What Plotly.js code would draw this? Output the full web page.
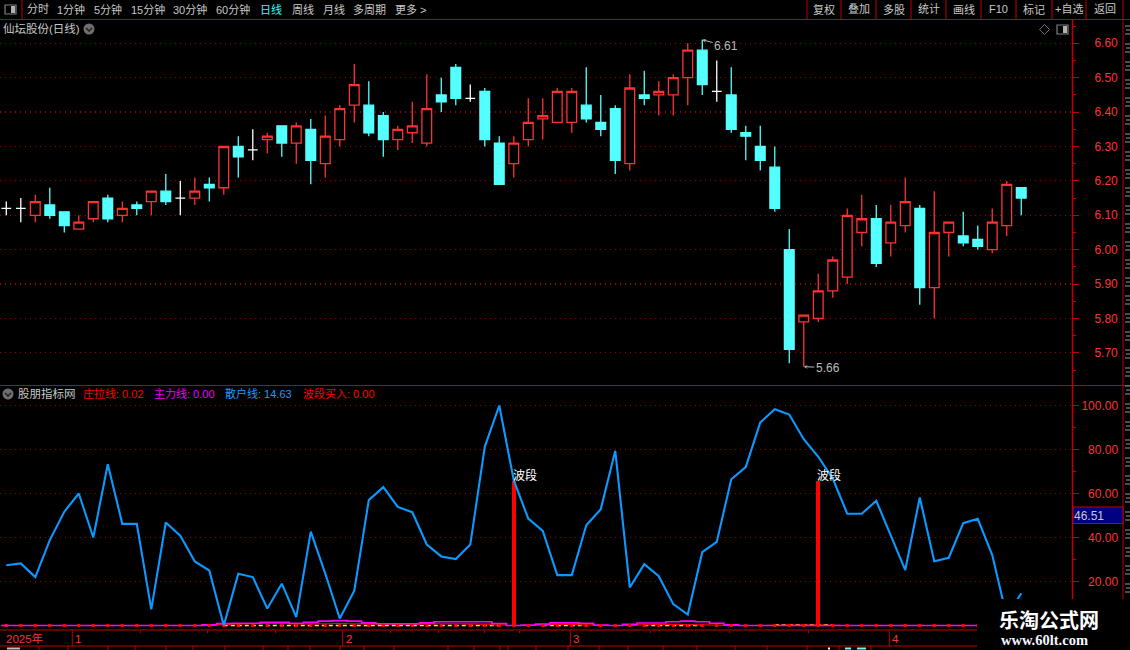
<!DOCTYPE html>
<html><head><meta charset="utf-8">
<script src="https://cdn.plot.ly/plotly-3.0.1.min.js"></script>
<style>html,body{margin:0;padding:0;background:#000;overflow:hidden}</style>
</head><body><div id="chart" style="width:1130px;height:650px"></div>
<script>
// ---- values ----
const stockName = "仙坛股份(日线)";
const indicatorName = "股朋指标网";
const open  = [6.12,6.12,6.10,6.13,6.11,6.06,6.09,6.15,6.10,6.13,6.14,6.17,6.15,6.15,6.19,6.18,6.30,6.29,6.32,6.36,6.31,6.35,6.25,6.32,6.42,6.42,6.39,6.32,6.34,6.31,6.45,6.53,6.44,6.46,6.31,6.25,6.32,6.38,6.37,6.37,6.42,6.37,6.41,6.25,6.45,6.45,6.45,6.50,6.58,6.46,6.45,6.34,6.30,6.24,6.00,5.79,5.80,5.88,5.92,6.05,6.09,6.02,6.07,6.12,5.89,6.05,6.04,6.03,6.00,6.07,6.18];
const high  = [6.14,6.15,6.16,6.18,6.11,6.10,6.14,6.16,6.14,6.14,6.17,6.22,6.20,6.21,6.21,6.30,6.33,6.35,6.34,6.36,6.37,6.38,6.39,6.42,6.54,6.49,6.40,6.36,6.43,6.51,6.50,6.54,6.48,6.47,6.33,6.33,6.44,6.44,6.47,6.47,6.53,6.45,6.42,6.51,6.52,6.49,6.51,6.60,6.61,6.55,6.53,6.36,6.36,6.30,6.06,5.81,5.93,5.98,6.12,6.16,6.13,6.13,6.21,6.13,6.17,6.08,6.11,6.07,6.12,6.20,6.18];
const low   = [6.10,6.08,6.08,6.09,6.05,6.06,6.08,6.08,6.08,6.10,6.10,6.13,6.10,6.13,6.14,6.16,6.21,6.26,6.28,6.27,6.25,6.19,6.21,6.30,6.37,6.33,6.27,6.29,6.31,6.30,6.40,6.42,6.43,6.30,6.19,6.21,6.30,6.32,6.37,6.34,6.37,6.33,6.22,6.23,6.42,6.39,6.39,6.42,6.45,6.43,6.34,6.26,6.23,6.11,5.67,5.66,5.79,5.86,5.90,6.01,5.95,5.98,6.05,5.84,5.80,5.98,6.01,6.00,5.99,6.04,6.10];
const close = [6.12,6.12,6.14,6.10,6.07,6.08,6.14,6.09,6.12,6.12,6.17,6.14,6.15,6.17,6.18,6.30,6.27,6.29,6.33,6.31,6.36,6.26,6.33,6.41,6.48,6.34,6.32,6.35,6.36,6.41,6.43,6.44,6.44,6.32,6.19,6.31,6.37,6.39,6.46,6.46,6.38,6.35,6.26,6.47,6.44,6.46,6.50,6.58,6.48,6.46,6.35,6.33,6.26,6.12,5.71,5.81,5.88,5.97,6.10,6.09,5.96,6.08,6.14,5.89,6.05,6.08,6.02,6.01,6.08,6.19,6.15];
const retail = [27.4,28.2,22,38.8,51.7,60,40,73.3,46.2,46.2,7.3,46.8,40.8,29.1,25,0,23.5,22,7.7,19,3.8,42.7,23.6,3.2,15.8,57,62.9,53.9,51.5,36.8,31.4,30.2,36.8,81.2,100,66,48.6,43,22.9,22.9,45.6,52.9,79.4,17.3,27.9,22.4,9.7,5,33.3,38,66.5,72,92.3,98.3,95.9,84.7,76.7,66.8,50.8,50.8,56.7,41,25.2,58.2,29.2,30.8,46.5,48.5,32,4,14.63];
const mainForce = [0,0,0,0,0,0,0,0,0,0,0,0,0,0,0.3,0.9,1,1,1.5,1.5,1,1.5,2,2.2,2,1.2,0.8,0.8,0.8,1.2,1.7,1.7,1.7,1.7,0.9,0,0.15,0.6,1.2,1.2,1,0.2,0,0.5,1.1,1.1,1.7,2,1.7,1,0.3,0,0,0,0,0,0,0,0,0,0,0,0,0,0,0,0,0,0,0,0];
const banker = [0,0,0,0,0,0,0,0,0,0,0,0,0,0,0,0.4,0.7,0.8,0.9,0.9,0.7,0.7,0.8,0.9,0.8,0.7,0.6,0.6,0.6,0.7,0.8,0.8,0.7,0.6,0.3,0,0,0.2,0.45,0.45,0.3,0,0,0,0.3,0.45,0.45,0.45,0.3,0.2,0,0,0,0.1,0.2,0.2,0.2,0.1,0,0,0,0,0,0,0,0,0,0,0,0,0.02];
const yellowGuide = [null,null,null,null,null,null,null,null,null,null,null,null,null,null,null,0,0,0,0,0,0,0,0,0,0,0,0,0,0,0,0,0,0,0,0,null,null,0,0,0,0,null,null,null,0,0,0,0,0,null,null,null,null,0.4,0.4,0.4,0.4,0.4,null,null,null,null,null,null,null,null,null,null,null,null,null];
const buyLevel = retail.map(() => 0);
const signalIndex = [35, 56];
const signalValue = [65.6, 65.6];
const signalLabel = "波段";
const priceTicks = [5.7,5.8,5.9,6.0,6.1,6.2,6.3,6.4,6.5,6.6];
const priceTickText = ["5.70","5.80","5.90","6.00","6.10","6.20","6.30","6.40","6.50","6.60"];
const lowerTicks = [20,40,60,80,100];
const lowerTickText = ["\u200720.00","\u200740.00","\u200760.00","\u200780.00","100.00"];
const yearLabel = "2025年";
const monthLabels = ["1","2","3","4"];
const monthTicks = [4.55,23.2,38.9,60.9];
const minorTicks = [9.24,13.9,18.6,26.5,29.8,32.95,35.4,44.4,49.9,55.35];
const highLabel = "6.61", lowLabel = "5.66";
const lastRetailLabel = "46.51";
const toolbarLeft = ["分时","1分钟","5分钟","15分钟","30分钟","60分钟","日线","周线","月线","多周期","更多 >"];
const toolbarRight = ["复权","叠加","多股","统计","画线","F10","标记","+自选","返回"];
const legendNames = ["庄拉线","主力线","散户线","波段买入"];
const legendValues = ["0.02","0.00","14.63","0.00"];
const watermark = ["乐淘公式网","www.60lt.com"];

// ---- layout constants ----
const W = 1130, H = 650;
const px = v => v / W, py = v => 1 - v / H;
const RED = "#c00000", TXT = "#c8c8c8", LBL = "#ff3232";
const CJK = "'Liberation Sans','Noto Sans CJK SC',sans-serif";
const idx = open.map((_, i) => i);
const isDoji = idx.map(i => open[i] === close[i]);
const pick = (arr, want) => arr.filter((_, i) => isDoji[i] === want);

const candle = (want, up, down, fillUp, fillDown) => ({
  type: "candlestick", x: pick(idx, want), open: pick(open, want), high: pick(high, want), low: pick(low, want), close: pick(close, want),
  increasing: {line: {color: up, width: 1.3}, fillcolor: fillUp},
  decreasing: {line: {color: down, width: 1.3}, fillcolor: fillDown},
  whiskerwidth: 0, hoverinfo: "skip", showlegend: false, xaxis: "x", yaxis: "y"
});
const low2 = (y, line, extra) => Object.assign({type: "scatter", mode: "lines", x: idx, y, line, connectgaps: false, hoverinfo: "skip", showlegend: false, xaxis: "x2", yaxis: "y2"}, extra || {});

const traces = [
  candle(false, "#ff3232", "#54ffff", "#000000", "#54ffff"),
  candle(true, "#ffffff", "#ffffff", "#ffffff", "#ffffff"),
  {type: "bar", x: signalIndex, y: signalValue, width: 0.27, marker: {color: "#ff0000", line: {width: 0}}, hoverinfo: "skip", showlegend: false, xaxis: "x2", yaxis: "y2"},
  low2(yellowGuide, {color: "#ffff00", width: 1.3, dash: "4px,3px"}),
  low2(banker, {color: "#ff0000", width: 1.2, shape: "hvh"}),
  low2(mainForce, {color: "#ff00ff", width: 1.6, shape: "hvh"}),
  low2(buyLevel, {width: 0}, {mode: "markers", marker: {color: "#ff0000", symbol: "square", size: 3, line: {width: 0}}}),
  low2(retail, {color: "#0a99ff", width: 2.1})
];

// ---- text ----
const note = (text, x, y, color, size, extra) => Object.assign({
  text, x: px(x), y: py(y), xref: "paper", yref: "paper", xanchor: "left", yanchor: "middle", xshift: -2,
  showarrow: false, font: {family: CJK, size: size || 11, color: color || TXT}
}, extra || {});
const annotations = [];
const leftX = [27,57,94,131,173,216,260,292,323,353,395];
toolbarLeft.forEach((t, i) => annotations.push(note(t, leftX[i], 9.5, t === "日线" ? "#33ffff" : TXT, 11)));
const rightX = [824,858.5,893.5,928.5,963.5,998.5,1034,1069,1104.5];
toolbarRight.forEach((t, i) => annotations.push(note(t, rightX[i], 9.5, TXT, 11, {xanchor: "center", xshift: 0})));
annotations.push(note(stockName, 3, 29, TXT, 11.5));
annotations.push(note(indicatorName, 18, 393.5, TXT, 11.5));
const legendX = [83,154,225,303], legendColor = ["#ff0000","#ee00ee","#1e9bff","#ff0000"];
legendNames.forEach((n, i) => annotations.push(note(n + ": " + legendValues[i], legendX[i], 393.5, legendColor[i], 11)));
annotations.push(note(yearLabel, 6, 638.5, LBL, 11.5));
monthLabels.forEach((m, i) => annotations.push({text: m, x: monthTicks[i], y: py(638.5), xref: "x2", yref: "paper", xanchor: "left", yanchor: "middle", xshift: 1, showarrow: false, font: {family: CJK, size: 11.5, color: LBL}}));
signalIndex.forEach((s, i) => annotations.push({text: signalLabel, x: s, y: signalValue[i] + 2.4, xref: "x2", yref: "y2", xanchor: "left", yanchor: "middle", xshift: -3, showarrow: false, font: {family: CJK, size: 12, color: "#ffffff"}}));
annotations.push({text: highLabel, x: 48, y: 6.61, xref: "x", yref: "y", ax: 24, ay: 6, axref: "pixel", ayref: "pixel", showarrow: true, arrowhead: 3, arrowsize: 0.7, arrowwidth: 1, arrowcolor: "#bbbbbb", font: {family: CJK, size: 12, color: "#bbbbbb"}, yanchor: "middle"});
annotations.push({text: lowLabel, x: 55, y: 5.66, xref: "x", yref: "y", ax: 24, ay: 1, axref: "pixel", ayref: "pixel", showarrow: true, arrowhead: 3, arrowsize: 0.7, arrowwidth: 1, arrowcolor: "#bbbbbb", font: {family: CJK, size: 12, color: "#bbbbbb"}, yanchor: "middle"});
annotations.push(note(lastRetailLabel, 1074, 515.5, "#c8c8c8", 12));
annotations.push(note(watermark[0], 999, 619, "#ffffff", 20, {font: {family: "'Noto Sans CJK SC',sans-serif", size: 20, color: "#ffffff", weight: 700}}));
annotations.push(note(watermark[1], 1001, 640, "#ffffff", 14, {font: {family: "'Liberation Serif',serif", size: 14.5, color: "#f4f8ff", weight: 700}}));

// ---- panel chrome ----
const shapes = [];
const rule = (x0, y0, x1, y1, color, width) => shapes.push({type: "line", xref: "paper", yref: "paper", x0: px(x0), x1: px(x1), y0: py(y0), y1: py(y1), line: {color: color || RED, width: width || 1}});
rule(0, 19.5, 1130, 19.5);
rule(0, 385.5, 1130, 385.5);
rule(0, 630, 1072, 630, RED, 1.2);
rule(0, 646, 1072, 646, RED, 1.2);
rule(1072.5, 19.5, 1072.5, 650, RED, 1.5);
rule(1123, 0, 1123, 650, RED, 1);
[22,807,841,876,911,946,981,1016,1052,1086].forEach(x => rule(x, 0, x, 19.5));
monthTicks.forEach(t => shapes.push({type: "line", xref: "x2", yref: "paper", x0: t, x1: t, y0: py(630), y1: py(646), line: {color: RED, width: 1}}));
[39,68,108,135,166,193,225,263,288,310,340,364,394,448,474,500,508,536,568,599,628,663,697,735,767,807,839,871].forEach(x => rule(x, 646, x, 650));
// partly visible neighbouring column at the right edge and status row at the bottom
for (let y = 26; y < 600; y += 18) { rule(1125, y, 1130, y, "#9a9a9a"); rule(1126, y + 4, 1130, y + 4, "#9a9a9a"); rule(1125, y + 8, 1130, y + 8, "#9a9a9a"); }
rule(7, 648.5, 20, 648.5, "#bdbdbd", 2);
rule(828, 648.5, 830, 648.5, "#ffffff", 2);
rule(845, 648.5, 851, 648.5, "#54ffff", 2);
rule(857, 648.5, 866, 648.5, "#54ffff", 2);
shapes.push({type: "line", xref: "paper", yref: "y2", x0: px(1), x1: px(7), y0: 0, y1: 0, line: {color: "#ff00ff", width: 1.6}});

const roundIcon = (cx, cy) => {
  shapes.push({type: "circle", xref: "paper", yref: "paper", x0: px(cx - 5.5), x1: px(cx + 5.5), y0: py(cy + 5.5), y1: py(cy - 5.5), fillcolor: "#6e6e6e", line: {width: 0}});
  shapes.push({type: "path", xref: "paper", yref: "paper", path: `M${px(cx - 3)},${py(cy - 1)} L${px(cx)},${py(cy + 2)} L${px(cx + 3)},${py(cy - 1)}`, line: {color: "#1a1a1a", width: 1.3}});
};
const panelIcon = (x0, y0) => {
  shapes.push({type: "rect", xref: "paper", yref: "paper", x0: px(x0), x1: px(x0 + 11), y0: py(y0 + 9), y1: py(y0), line: {color: "#808080", width: 1.2}, fillcolor: "#000"});
  shapes.push({type: "rect", xref: "paper", yref: "paper", x0: px(x0 + 6), x1: px(x0 + 10), y0: py(y0 + 8), y1: py(y0 + 1), line: {width: 0}, fillcolor: "#b0b0b0"});
};
roundIcon(89, 29); roundIcon(8, 394);
panelIcon(5, 5); panelIcon(1057, 25);
shapes.push({type: "path", xref: "paper", yref: "paper", path: `M${px(1044.5)},${py(24.5)} L${px(1049.5)},${py(29.5)} L${px(1044.5)},${py(34.5)} L${px(1039.5)},${py(29.5)} Z`, line: {color: "#707070", width: 1}});
// current-value tag on the lower axis
shapes.push({type: "rect", xref: "paper", yref: "paper", x0: px(1073), x1: px(1123), y0: py(523.5), y1: py(507), fillcolor: "#000080", line: {color: RED, width: 1}, layer: "above"});
// watermark patch
shapes.push({type: "rect", xref: "paper", yref: "paper", x0: px(977), x1: px(1130), y0: py(650), y1: py(599), fillcolor: "#000000", line: {width: 0}, layer: "above"});

const gridStyle = {showgrid: true, gridcolor: "#a00000", griddash: "1px,4px", gridwidth: 1.2, zeroline: false};
const layout = {
  width: W, height: H, margin: {l: 0, r: 0, t: 0, b: 0, pad: 0}, autosize: false,
  paper_bgcolor: "#000", plot_bgcolor: "#000", showlegend: false, bargap: 0,
  boxgap: 0.16, boxgroupgap: 0.2, boxmode: "overlay",
  font: {family: CJK, color: TXT},
  xaxis: {domain: [0, 1072 / W], range: [-0.434, 73.5], anchor: "y", showgrid: false, zeroline: false, showticklabels: false, ticks: "", rangeslider: {visible: false}, type: "linear"},
  yaxis: Object.assign({domain: [py(385.5), py(20)], range: [5.6052, 6.6677], anchor: "x", side: "right", tickmode: "array", tickvals: priceTicks, ticktext: priceTickText, ticks: "outside", ticklen: 6, tickcolor: RED, tickwidth: 1, ticklabelstandoff: 13, tickfont: {family: "'Liberation Sans',sans-serif", size: 12, color: LBL}, showline: false, minor: {dtick: 0.05, ticks: "outside", ticklen: 3, tickcolor: RED, tickwidth: 1, showgrid: false}}, gridStyle),
  xaxis2: {domain: [0, 1072 / W], range: [-0.434, 73.5], anchor: "y2", showgrid: false, zeroline: false, showticklabels: false, type: "linear", tickmode: "array", tickvals: minorTicks, ticks: "outside", ticklen: 2, tickcolor: RED, tickwidth: 1},
  yaxis2: Object.assign({domain: [py(630), py(385.5)], range: [-2.05, 109.1], anchor: "x2", side: "right", tickmode: "array", tickvals: lowerTicks, ticktext: lowerTickText, ticks: "outside", ticklen: 6, tickcolor: RED, tickwidth: 1, ticklabelstandoff: 0, tickfont: {family: "'Liberation Sans',sans-serif", size: 12, color: LBL}, showline: false, minor: {dtick: 10, ticks: "outside", ticklen: 3, tickcolor: RED, tickwidth: 1, showgrid: false}}, gridStyle),
  shapes, annotations
};
Plotly.newPlot("chart", traces, layout, {displayModeBar: false, staticPlot: true});
</script></body></html>
